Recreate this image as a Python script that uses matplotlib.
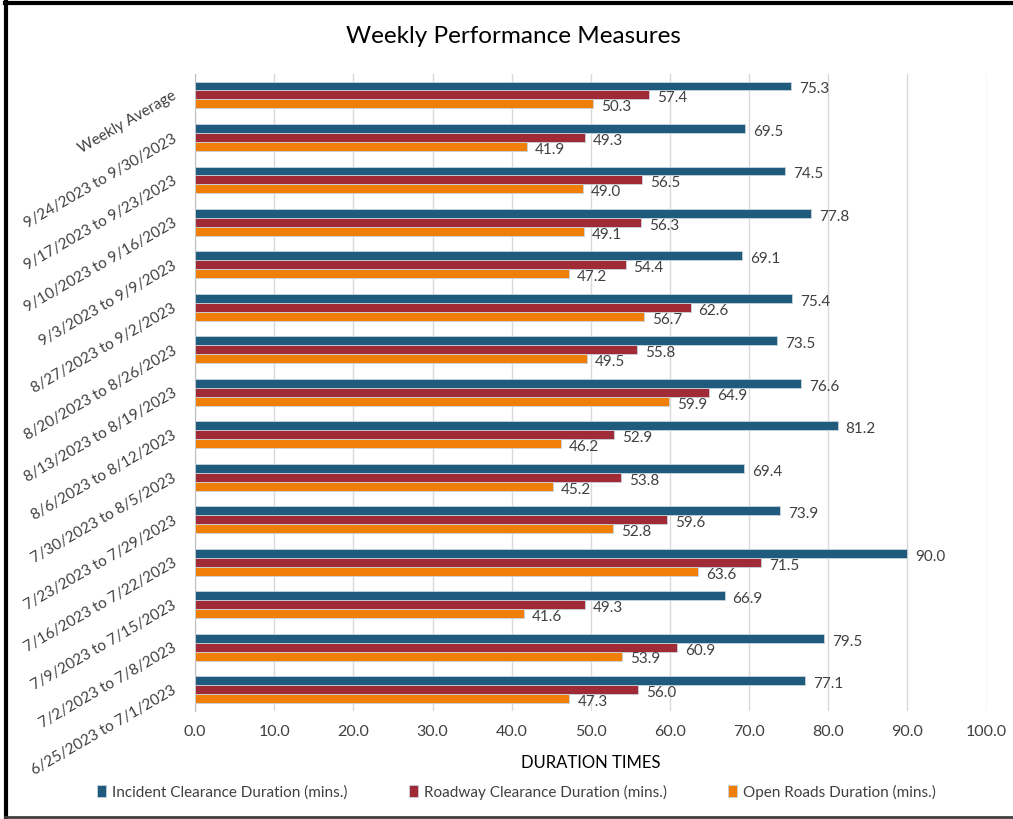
import matplotlib
matplotlib.use("Agg")
import matplotlib.pyplot as plt
import numpy as np
from matplotlib.lines import Line2D

plt.rcParams['font.family'] = ['Lato', 'DejaVu Sans']

categories = [
    "Weekly Average",
    "9/24/2023 to 9/30/2023",
    "9/17/2023 to 9/23/2023",
    "9/10/2023 to 9/16/2023",
    "9/3/2023 to 9/9/2023",
    "8/27/2023 to 9/2/2023",
    "8/20/2023 to 8/26/2023",
    "8/13/2023 to 8/19/2023",
    "8/6/2023 to 8/12/2023",
    "7/30/2023 to 8/5/2023",
    "7/23/2023 to 7/29/2023",
    "7/16/2023 to 7/22/2023",
    "7/9/2023 to 7/15/2023",
    "7/2/2023 to 7/8/2023",
    "6/25/2023 to 7/1/2023",
]
incident = [75.3, 69.5, 74.5, 77.8, 69.1, 75.4, 73.5, 76.6, 81.2, 69.4, 73.9, 90.0, 66.9, 79.5, 77.1]
roadway = [57.4, 49.3, 56.5, 56.3, 54.4, 62.6, 55.8, 64.9, 52.9, 53.8, 59.6, 71.5, 49.3, 60.9, 56.0]
open_roads = [50.3, 41.9, 49.0, 49.1, 47.2, 56.7, 49.5, 59.9, 46.2, 45.2, 52.8, 63.6, 41.6, 53.9, 47.3]
series_names = ["Incident Clearance Duration (mins.)",
                "Roadway Clearance Duration (mins.)",
                "Open Roads Duration (mins.)"]
colors = ["#1F5B7D", "#A12A37", "#F07F0A"]
xticks = [0, 10, 20, 30, 40, 50, 60, 70, 80, 90, 100]

fig = plt.figure(figsize=(10.13, 8.19), dpi=100)
ax = fig.add_axes([0.1925, 0.132, 0.7815, 0.778])

n = len(categories)
y = np.arange(n)
h = 0.21
series = [incident, roadway, open_roads]
offsets = [-h, 0, h]
for vals, off, col, name in zip(series, offsets, colors, series_names):
    ax.barh(y + off, vals, height=h, color=col, edgecolor="#c8d3dc", linewidth=0.6,
            label=name, zorder=3)
    for yi, v in zip(y, vals):
        ax.text(v + 1.0, yi + off + 0.08, f"{v:.1f}", va="center", ha="left",
                fontsize=11, color="#404040", zorder=4)

ax.set_ylim(n - 0.5, -0.5)
ax.set_xlim(0, 100)
ax.set_xticks(xticks)
ax.set_xticklabels([f"{t:.1f}" for t in xticks], fontsize=11.5, color="#404040")
ax.set_yticks(y)
ax.set_yticklabels(categories, rotation=30, ha="right", va="center",
                   rotation_mode="anchor", fontsize=11, color="#404040")
ax.tick_params(axis="both", length=0, pad=10)
ax.tick_params(axis="y", pad=14)
ax.grid(axis="x", color="#D9D9D9", linewidth=1, zorder=0)
for s in ["top", "right", "bottom"]:
    ax.spines[s].set_visible(False)
ax.spines["left"].set_color("#BFBFBF")
ax.set_xlabel("DURATION TIMES", fontsize=12, color="#000000", labelpad=12)

fig.text(0.507, 0.955, "Weekly Performance Measures", ha="center", va="center",
         fontsize=17.5, color="#000000")

handles, labels = ax.get_legend_handles_labels()
fig.legend(handles, labels, loc="center", bbox_to_anchor=(0.51, 0.033), ncol=3,
           frameon=False, fontsize=11, handlelength=0.6, handleheight=0.8,
           handletextpad=0.4, columnspacing=4.0, labelcolor="#404040")

# frame: top and left black, bottom gray
fig.add_artist(Line2D([0.005, 1.0], [0.9963, 0.9963], transform=fig.transFigure,
                      color="black", linewidth=3))
fig.add_artist(Line2D([0.0055, 0.0055], [0.0015, 0.9975], transform=fig.transFigure,
                      color="black", linewidth=3))
fig.add_artist(Line2D([0.005, 1.0], [0.002, 0.002], transform=fig.transFigure,
                      color="#404040", linewidth=2))

fig.savefig("out.png", dpi=100)
